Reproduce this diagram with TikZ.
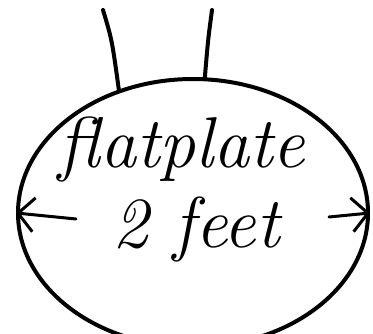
\documentclass[tikz,border=0pt]{standalone}
\usepackage{tikz}
\usetikzlibrary{arrows.meta, positioning, shapes.geometric}

\begin{document}
\begin{tikzpicture}[x=1pt, y=-1pt,
  ink/.style={line width=4pt, line cap=round, line join=round},
  platebox/.style={ink, draw, ellipse, inner sep=0pt, minimum width=350pt, minimum height=268pt},
  word/.style={font=\fontsize{72}{74}\selectfont\itshape, inner sep=0pt},
  arr/.style={line width=3pt, line cap=round, -{Straight Barb[length=16pt, width=34pt, line width=3pt]}}
]
  \useasboundingbox (0,0) rectangle (373,334);

  \node[platebox] (plate) at (193,213) {};

  \node[word] (name) at (182,150) {flatplate};
  \node[word] (size) at (196,230) {2 feet};

  \coordinate (lefttail) at (76,219);
  \coordinate (righttail) at (329,217);
  \coordinate (ropeA) at (103,10);
  \coordinate (ropeB) at (212,10);

  \draw[arr] (lefttail) -- (plate.west);
  \draw[arr] (righttail) -- (plate.east);
  \draw[ink] (ropeA) .. controls (112,40) .. (plate.121);
  \draw[ink] (ropeB) .. controls (208,40) .. (plate.85);
\end{tikzpicture}
\end{document}
